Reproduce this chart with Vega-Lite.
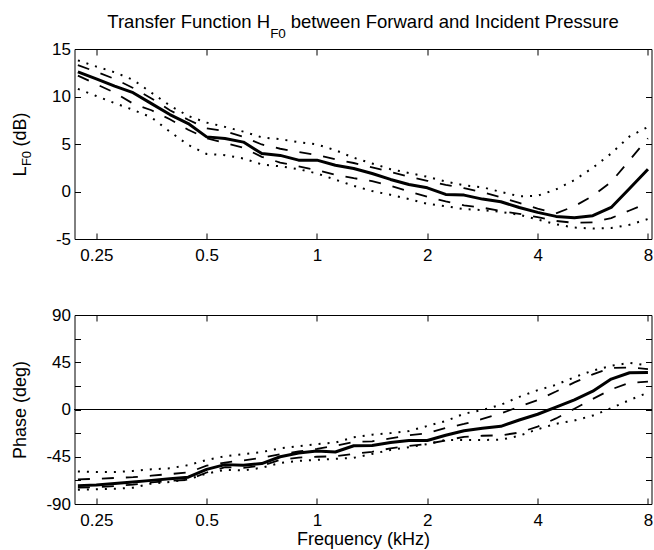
{
  "$schema": "https://vega.github.io/schema/vega-lite/v6.json",
  "padding": {"left": 10.5, "top": 12, "right": 2, "bottom": 0},
  "config": {
    "font": "Liberation Sans",
    "view": {"stroke": "black", "strokeWidth": 1},
    "axis": {"domain": false, "grid": false, "tickColor": "black", "tickSize": -6, "tickWidth": 1,
             "labelFont": "Liberation Sans", "labelFontSize": 17, "labelColor": "black", "labelPadding": 10,
             "titleFont": "Liberation Sans", "titleFontSize": 18, "titleFontWeight": "normal", "titleColor": "black"},
    "title": {"font": "Liberation Sans", "fontWeight": "normal", "color": "black"}
  },
  "datasets": {
    "d": [
      {"f": 0.2227, "Lm": 12.6, "Lh": 13.3, "Ll": 12.2, "Lx": 13.8, "Ln": 10.8, "Pm": -72.5, "Ph": -66.5, "Pl": -74.5, "Px": -59, "Pn": -76.5},
      {"f": 0.25, "Lm": 11.85, "Lh": 12.6, "Ll": 11.3, "Lx": 13.15, "Ln": 10.05, "Pm": -71.8, "Ph": -66, "Pl": -74, "Px": -59.5, "Pn": -76},
      {"f": 0.2806, "Lm": 11.1, "Lh": 11.85, "Ll": 10.4, "Lx": 12.55, "Ln": 9.3, "Pm": -70.5, "Ph": -65.2, "Pl": -73, "Px": -59.5, "Pn": -75.5},
      {"f": 0.315, "Lm": 10.4, "Lh": 10.9, "Ll": 9.25, "Lx": 11.75, "Ln": 8.6, "Pm": -69, "Ph": -64.5, "Pl": -71.5, "Px": -58.5, "Pn": -74.5},
      {"f": 0.3536, "Lm": 9.25, "Lh": 9.8, "Ll": 8.55, "Lx": 10.4, "Ln": 7.8, "Pm": -67.5, "Ph": -63, "Pl": -69.5, "Px": -57, "Pn": -70.5},
      {"f": 0.3969, "Lm": 8.1, "Lh": 8.55, "Ll": 7.6, "Lx": 9.05, "Ln": 6.3, "Pm": -66, "Ph": -61.5, "Pl": -68, "Px": -56, "Pn": -69},
      {"f": 0.4454, "Lm": 7.15, "Lh": 7.55, "Ll": 6.5, "Lx": 7.95, "Ln": 4.9, "Pm": -64.5, "Ph": -60, "Pl": -67, "Px": -53, "Pn": -66.5},
      {"f": 0.5, "Lm": 5.75, "Lh": 6.65, "Ll": 5.6, "Lx": 7.25, "Ln": 3.95, "Pm": -57, "Ph": -53.5, "Pl": -60, "Px": -48, "Pn": -61},
      {"f": 0.5612, "Lm": 5.57, "Lh": 6.35, "Ll": 5.1, "Lx": 6.8, "Ln": 3.82, "Pm": -52.5, "Ph": -50.5, "Pl": -55, "Px": -44.5, "Pn": -57.5},
      {"f": 0.63, "Lm": 5.2, "Lh": 5.75, "Ll": 4.6, "Lx": 6.3, "Ln": 3.47, "Pm": -53, "Ph": -48.5, "Pl": -55.5, "Px": -42.5, "Pn": -58},
      {"f": 0.7071, "Lm": 4.0, "Lh": 4.95, "Ll": 3.65, "Lx": 5.7, "Ln": 2.85, "Pm": -51.5, "Ph": -46, "Pl": -53.5, "Px": -40.5, "Pn": -55.5},
      {"f": 0.7937, "Lm": 3.8, "Lh": 4.5, "Ll": 3.05, "Lx": 5.5, "Ln": 2.65, "Pm": -45, "Ph": -42.5, "Pl": -48, "Px": -37, "Pn": -51},
      {"f": 0.8909, "Lm": 3.3, "Lh": 4.15, "Ll": 2.65, "Lx": 5.2, "Ln": 2.35, "Pm": -41.5, "Ph": -40, "Pl": -45.8, "Px": -35, "Pn": -49},
      {"f": 1, "Lm": 3.3, "Lh": 3.85, "Ll": 2.25, "Lx": 4.95, "Ln": 1.9, "Pm": -39.5, "Ph": -37.5, "Pl": -45, "Px": -33, "Pn": -48},
      {"f": 1.1225, "Lm": 2.77, "Lh": 3.38, "Ll": 1.75, "Lx": 4.35, "Ln": 1.25, "Pm": -40.5, "Ph": -34.5, "Pl": -44.5, "Px": -31.5, "Pn": -47},
      {"f": 1.2599, "Lm": 2.42, "Lh": 3.0, "Ll": 1.4, "Lx": 3.55, "Ln": 0.6, "Pm": -34.5, "Ph": -31, "Pl": -42.3, "Px": -26.5, "Pn": -46},
      {"f": 1.4142, "Lm": 1.9, "Lh": 2.55, "Ll": 1.1, "Lx": 2.95, "Ln": 0.05, "Pm": -34.3, "Ph": -30.3, "Pl": -40.3, "Px": -24, "Pn": -42.3},
      {"f": 1.5874, "Lm": 1.27, "Lh": 2.05, "Ll": 0.6, "Lx": 2.35, "Ln": -0.35, "Pm": -31.5, "Ph": -27.5, "Pl": -37, "Px": -22.5, "Pn": -38.5},
      {"f": 1.7818, "Lm": 0.74, "Lh": 1.55, "Ll": 0.0, "Lx": 1.95, "Ln": -0.8, "Pm": -29.5, "Ph": -24.5, "Pl": -34.8, "Px": -20.5, "Pn": -36},
      {"f": 2, "Lm": 0.39, "Lh": 1.13, "Ll": -0.55, "Lx": 1.55, "Ln": -1.3, "Pm": -29.5, "Ph": -22.6, "Pl": -32.7, "Px": -15.7, "Pn": -33},
      {"f": 2.2449, "Lm": -0.31, "Lh": 0.7, "Ll": -1.05, "Lx": 1.05, "Ln": -1.55, "Pm": -24.5, "Ph": -17.5, "Pl": -29.5, "Px": -11, "Pn": -29},
      {"f": 2.5198, "Lm": -0.38, "Lh": 0.35, "Ll": -1.45, "Lx": 0.65, "Ln": -1.85, "Pm": -20.3, "Ph": -13.8, "Pl": -26, "Px": -4, "Pn": -29},
      {"f": 2.8284, "Lm": -0.8, "Lh": -0.07, "Ll": -1.7, "Lx": 0.45, "Ln": -1.95, "Pm": -17.8, "Ph": -9, "Pl": -25, "Px": -0.5, "Pn": -29},
      {"f": 3.1748, "Lm": -1.08, "Lh": -0.6, "Ll": -2.05, "Lx": -0.05, "Ln": -2.15, "Pm": -16, "Ph": -3.8, "Pl": -24.6, "Px": 4.5, "Pn": -28.8},
      {"f": 3.5636, "Lm": -1.68, "Lh": -1.2, "Ll": -2.35, "Lx": -0.5, "Ln": -2.45, "Pm": -10, "Ph": 2.7, "Pl": -22, "Px": 12, "Pn": -25},
      {"f": 4, "Lm": -2.2, "Lh": -1.8, "Ll": -2.7, "Lx": -0.45, "Ln": -2.95, "Pm": -4.5, "Ph": 9, "Pl": -16.3, "Px": 18.4, "Pn": -18.8},
      {"f": 4.4898, "Lm": -2.62, "Lh": -2.3, "Ll": -3.1, "Lx": 0.22, "Ln": -3.45, "Pm": 2.2, "Ph": 17.1, "Pl": -8.5, "Px": 23.5, "Pn": -13.6},
      {"f": 5.0397, "Lm": -2.76, "Lh": -1.55, "Ll": -3.3, "Lx": 1.2, "Ln": -3.8, "Pm": 9.2, "Ph": 25.8, "Pl": 0.7, "Px": 30.8, "Pn": -10.5},
      {"f": 5.6569, "Lm": -2.55, "Lh": -0.45, "Ll": -3.25, "Lx": 2.5, "Ln": -3.9, "Pm": 17.4, "Ph": 33.5, "Pl": 10.1, "Px": 37, "Pn": -5.8},
      {"f": 6.3496, "Lm": -1.68, "Lh": 1.0, "Ll": -2.8, "Lx": 4.0, "Ln": -3.85, "Pm": 29, "Ph": 39.5, "Pl": 19.1, "Px": 41.6, "Pn": 1.3},
      {"f": 7.1272, "Lm": 0.32, "Lh": 3.3, "Ll": -2.0, "Lx": 5.8, "Ln": -3.5, "Pm": 35, "Ph": 40, "Pl": 25.5, "Px": 44.4, "Pn": 9},
      {"f": 8, "Lm": 2.35, "Lh": 5.6, "Ll": -1.2, "Lx": 6.8, "Ln": -2.9, "Pm": 35.3, "Ph": 38.5, "Pl": 26.5, "Px": 42, "Pn": 16}
    ]
  },
  "bounds": "flush",
  "spacing": 76,
  "vconcat": [
    {
      "width": 577,
      "height": 190,
      "title": {"text": "Transfer Function H\u00a0\u00a0\u00a0 between Forward and Incident Pressure", "fontSize": 18.5, "baseline": "alphabetic", "offset": -20},
      "data": {"name": "d"},
      "resolve": {"axis": {"x": "independent", "y": "independent"}},
      "layer": [
        {
          "mark": {"type": "line", "color": "black", "strokeWidth": 3, "strokeJoin": "round"},
          "encoding": {
            "x": {"field": "f", "type": "quantitative", "scale": {"type": "log", "domain": [0.218, 8.18], "nice": false},
                  "axis": {"orient": "bottom", "values": [0.25, 0.5, 1, 2, 4, 8], "labelExpr": "toString(datum.value)", "labelPadding": 14.6, "title": null}},
            "y": {"field": "Lm", "type": "quantitative", "scale": {"domain": [-5, 15], "nice": false, "zero": false},
                  "axis": {"orient": "left", "values": [-5, 0, 5, 10, 15], "labelExpr": "toString(datum.value)",
                           "title": "L\u00a0\u00a0\u00a0 (dB)", "titleX": -49, "titleY": 95, "titleAngle": -90, "titleBaseline": "alphabetic", "titleAlign": "center"}}
          }
        },
        {
          "transform": [{"fold": ["Lh", "Ll"], "as": ["s", "v"]}],
          "mark": {"type": "line", "color": "black", "strokeWidth": 1.8, "strokeDash": [12, 12]},
          "encoding": {
            "x": {"field": "f", "type": "quantitative", "scale": {"type": "log", "domain": [0.218, 8.18], "nice": false}, "axis": null},
            "y": {"field": "v", "type": "quantitative", "scale": {"domain": [-5, 15], "nice": false, "zero": false}, "axis": null},
            "detail": {"field": "s", "type": "nominal"}
          }
        },
        {
          "transform": [{"fold": ["Lx", "Ln"], "as": ["s", "v"]}],
          "mark": {"type": "line", "color": "black", "strokeWidth": 2, "strokeDash": [2, 7]},
          "encoding": {
            "x": {"field": "f", "type": "quantitative", "scale": {"type": "log", "domain": [0.218, 8.18], "nice": false}, "axis": null},
            "y": {"field": "v", "type": "quantitative", "scale": {"domain": [-5, 15], "nice": false, "zero": false}, "axis": null},
            "detail": {"field": "s", "type": "nominal"}
          }
        },
        {
          "mark": {"type": "point", "opacity": 0},
          "encoding": {
            "x": {"field": "f", "type": "quantitative", "scale": {"type": "log", "domain": [0.218, 8.18], "nice": false},
                  "axis": {"orient": "top", "values": [0.25, 0.5, 1, 2, 4, 8], "labels": false,
                           "title": "F0", "titleFontSize": 13.5, "titleX": 203, "titleY": -11.5, "titleBaseline": "alphabetic", "titleAlign": "center"}},
            "y": {"field": "Lm", "type": "quantitative", "scale": {"domain": [-5, 15], "nice": false, "zero": false},
                  "axis": {"orient": "right", "values": [-5, 0, 5, 10, 15], "labels": false, "title": null}}
          }
        },
        {
          "mark": {"type": "point", "opacity": 0},
          "encoding": {
            "x": {"field": "f", "type": "quantitative", "scale": {"type": "log", "domain": [0.218, 8.18], "nice": false}, "axis": null},
            "y": {"field": "Lm", "type": "quantitative", "scale": {"domain": [-5, 15], "nice": false, "zero": false},
                  "axis": {"orient": "left", "labels": false, "ticks": false, "title": "F0", "titleFontSize": 13,
                           "titleX": -44.5, "titleY": 109, "titleAngle": -90, "titleBaseline": "alphabetic", "titleAlign": "center"}}
          }
        }
      ]
    },
    {
      "width": 577,
      "height": 189,
      "data": {"name": "d"},
      "resolve": {"axis": {"x": "independent", "y": "independent"}},
      "layer": [
        {
          "mark": {"type": "rule", "color": "black", "strokeWidth": 1.2},
          "encoding": {
            "y": {"datum": 0, "type": "quantitative", "scale": {"domain": [-90, 90], "nice": false, "zero": false}, "axis": null}
          }
        },
        {
          "mark": {"type": "line", "color": "black", "strokeWidth": 3, "strokeJoin": "round"},
          "encoding": {
            "x": {"field": "f", "type": "quantitative", "scale": {"type": "log", "domain": [0.218, 8.18], "nice": false},
                  "axis": {"orient": "bottom", "values": [0.25, 0.5, 1, 2, 4, 8], "labelExpr": "toString(datum.value)", "labelPadding": 14.6, "title": "Frequency (kHz)", "titlePadding": 2}},
            "y": {"field": "Pm", "type": "quantitative", "scale": {"domain": [-90, 90], "nice": false, "zero": false},
                  "axis": {"orient": "left", "values": [-90, -67.5, -45, -22.5, 0, 22.5, 45, 67.5, 90],
                           "labelExpr": "datum.value % 45 == 0 ? toString(datum.value) : ''",
                           "title": "Phase (deg)", "titleX": -49, "titleY": 94.5, "titleAngle": -90, "titleBaseline": "alphabetic", "titleAlign": "center"}}
          }
        },
        {
          "transform": [{"fold": ["Ph", "Pl"], "as": ["s", "v"]}],
          "mark": {"type": "line", "color": "black", "strokeWidth": 1.8, "strokeDash": [12, 12]},
          "encoding": {
            "x": {"field": "f", "type": "quantitative", "scale": {"type": "log", "domain": [0.218, 8.18], "nice": false}, "axis": null},
            "y": {"field": "v", "type": "quantitative", "scale": {"domain": [-90, 90], "nice": false, "zero": false}, "axis": null},
            "detail": {"field": "s", "type": "nominal"}
          }
        },
        {
          "transform": [{"fold": ["Px", "Pn"], "as": ["s", "v"]}],
          "mark": {"type": "line", "color": "black", "strokeWidth": 2, "strokeDash": [2, 7]},
          "encoding": {
            "x": {"field": "f", "type": "quantitative", "scale": {"type": "log", "domain": [0.218, 8.18], "nice": false}, "axis": null},
            "y": {"field": "v", "type": "quantitative", "scale": {"domain": [-90, 90], "nice": false, "zero": false}, "axis": null},
            "detail": {"field": "s", "type": "nominal"}
          }
        },
        {
          "mark": {"type": "point", "opacity": 0},
          "encoding": {
            "x": {"field": "f", "type": "quantitative", "scale": {"type": "log", "domain": [0.218, 8.18], "nice": false},
                  "axis": {"orient": "top", "values": [0.25, 0.5, 1, 2, 4, 8], "labels": false, "title": null}},
            "y": {"field": "Pm", "type": "quantitative", "scale": {"domain": [-90, 90], "nice": false, "zero": false},
                  "axis": {"orient": "right", "values": [-90, -67.5, -45, -22.5, 0, 22.5, 45, 67.5, 90], "labels": false, "title": null}}
          }
        }
      ]
    }
  ]
}
